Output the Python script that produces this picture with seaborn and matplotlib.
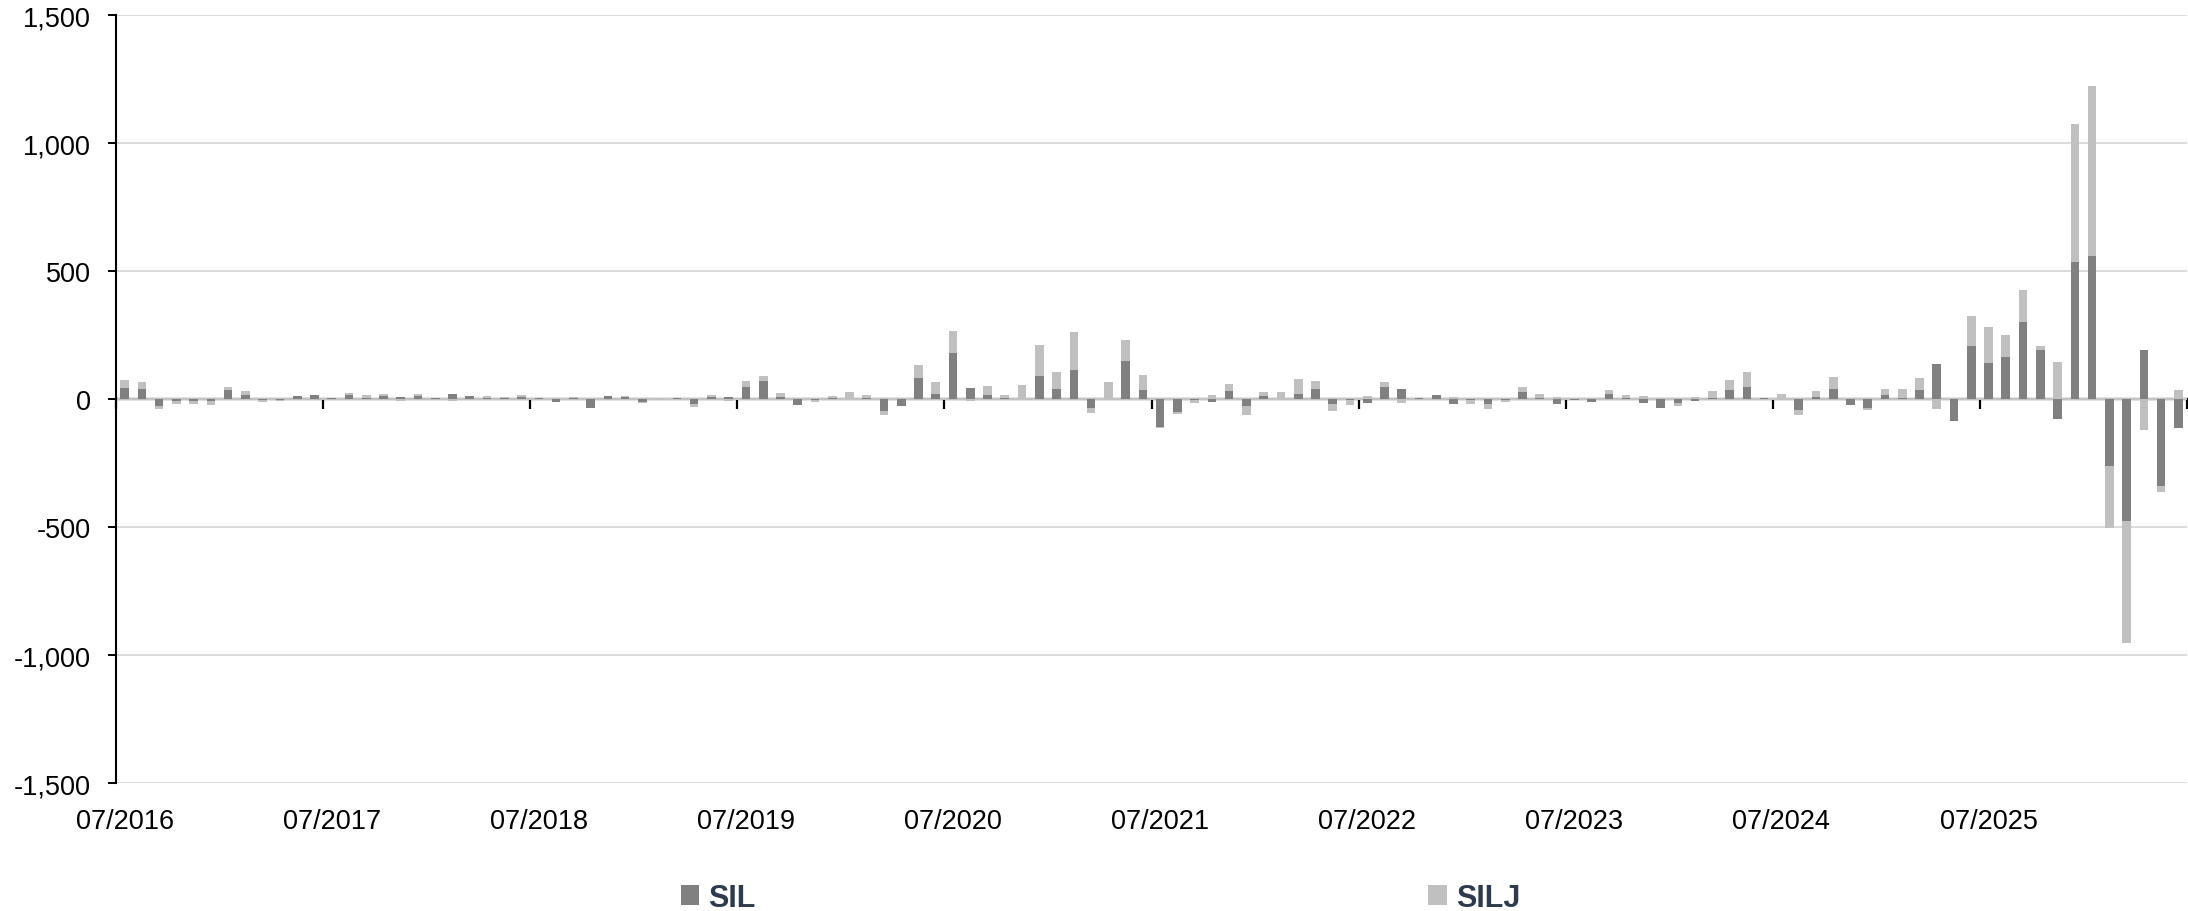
import numpy as np
import pandas as pd
import matplotlib
matplotlib.use("Agg")
import matplotlib.pyplot as plt
import seaborn as sns
from matplotlib.ticker import FuncFormatter
from matplotlib.patches import Patch

# ---------------- data ----------------
months = pd.date_range("2016-07-01", periods=120, freq="MS").strftime("%m/%Y").tolist()

sil = [43, 40, -27, -9, -9, -9, 34, 14, -2, -5, 12, 16,
       2, 16, 5, 13, 9, 12, 3, 18, 10, 3, 2, 8,
       4, -10, 2, -34, 13, 8, -13, 1, 3, -21, 8, 7,
       46, 69, 9, -22, -2, 2, 1, 4, -47, -29, 82, 20,
       178, 44, 17, 2, 1, 91, 39, 113, -36, 0, 148, 36,
       -108, -49, -3, -10, 30, -26, 12, 0, 21, 38, -20, -2,
       -14, 47, 40, 2, 16, -18, -2, -20, -3, 27, 2, -21,
       -5, -13, 21, 2, -14, -35, -14, -9, 3, 36, 46, 5,
       0, -44, 9, 40, -25, -35, 17, 3, 36, 137, -85, 207,
       139, 164, 300, 191, -80, 534, 557, -261, -475, 193, -341, -114]

silj = [30, 26, -13, -12, -12, -13, 13, 17, -10, -2, -5, -5,
        -4, 9, 11, 8, -6, 8, -2, -6, 2, 8, 7, 8,
        1, -3, 6, -2, -3, 5, -2, 4, 0, -9, 6, -8,
        23, 21, 13, -1, -8, 10, 26, 13, -15, 0, 49, 48,
        88, -9, 35, 14, 52, 120, 65, 149, -20, 65, 81, 59,
        -7, -11, -12, 16, 29, -36, 14, 26, 58, 31, -26, -20,
        12, 19, -14, 3, -3, 6, -18, -19, -10, 19, 16, 7,
        2, 2, 13, 12, 12, 0, -12, 8, 30, 37, 59, 0,
        20, -17, 22, 46, 0, -8, 22, 36, 47, -38, 0, 116,
        141, 86, 127, 16, 143, 539, 666, -244, -477, -123, -23, 36]

series_names = ["SIL", "SILJ"]
y_ticks = [-1500, -1000, -500, 0, 500, 1000, 1500]

# ---------------- style ----------------
sns.set_style("white")
plt.rcParams["font.family"] = ["Liberation Sans", "DejaVu Sans"]

DARK = "#808080"
LIGHT = "#C0C0C0"
TXT = "#2E3B4E"

df = pd.DataFrame({"month": months, "SIL": sil, "SILJ": silj})
sil_a = np.array(sil, dtype=float)
silj_a = np.array(silj, dtype=float)
bottom_j = np.where(np.sign(silj_a) * np.sign(sil_a) > 0, sil_a, 0.0)

W, H = 2188, 912
fig = plt.figure(figsize=(W / 100, H / 100), dpi=100)
left, right, top, bottom = 116, 2187, 16, 784
ax = fig.add_axes([left / W, 1 - bottom / H, (right - left) / W, (bottom - top) / H])

sns.barplot(data=df, x="month", y="SIL", order=months, color=DARK, saturation=1,
            width=0.5, errorbar=None, linewidth=0, ax=ax)
sns.barplot(data=df, x="month", y="SILJ", order=months, color=LIGHT, saturation=1,
            width=0.5, errorbar=None, linewidth=0, bottom=bottom_j, ax=ax)

ax.set_xlim(-0.5, len(months) - 0.5)
ax.set_ylim(y_ticks[0], y_ticks[-1])
ax.set_xlabel("")
ax.set_ylabel("")

# y axis
ax.set_yticks(y_ticks)
ax.yaxis.set_major_formatter(FuncFormatter(lambda v, p: f"{int(v):,}"))
ax.tick_params(axis="y", left=True, length=6, width=1.4, color="black",
               pad=12, labelsize=19.5, labelcolor="black")
ax.yaxis.grid(True, color="#D9D9D9", linewidth=1.3)
ax.xaxis.grid(False)
ax.set_axisbelow(True)

for s in ["top", "right", "bottom"]:
    ax.spines[s].set_visible(False)
ax.spines["left"].set_color("black")
ax.spines["left"].set_linewidth(1.5)

# x labels at the bottom, centred on every 12th month
lab_pos = list(range(0, len(months), 12))
ax.set_xticks(lab_pos)
ax.set_xticklabels([months[i] for i in lab_pos])
ax.tick_params(axis="x", length=0, pad=18, labelsize=19.5, labelcolor="black")

# zero axis line with tick marks between categories
zero_frac = (0 - y_ticks[0]) / (y_ticks[-1] - y_ticks[0])
sec = ax.secondary_xaxis(zero_frac)
sec.set_alignment("bottom")
sec.set_xticks([p - 0.5 for p in lab_pos] + [len(months) - 0.5])
sec.set_xticklabels([])
sec.tick_params(axis="x", length=7, width=1.6, color="black", direction="out")
for s in sec.spines.values():
    s.set_visible(False)
sec.spines["bottom"].set_visible(True)
sec.spines["bottom"].set_color("black")
sec.spines["bottom"].set_linewidth(1.6)

# legend
handles = [Patch(facecolor=DARK, edgecolor="none", label=series_names[0]),
           Patch(facecolor=LIGHT, edgecolor="none", label=series_names[1])]
leg = fig.legend(handles=handles, loc="center", bbox_to_anchor=(0.503, 0.0145), ncol=2,
                 frameon=False, handlelength=0.6, handleheight=0.6, handletextpad=0.3,
                 columnspacing=22, prop={"weight": "bold", "size": 22})
for t in leg.get_texts():
    t.set_color(TXT)

fig.savefig("out.png", dpi=100)
